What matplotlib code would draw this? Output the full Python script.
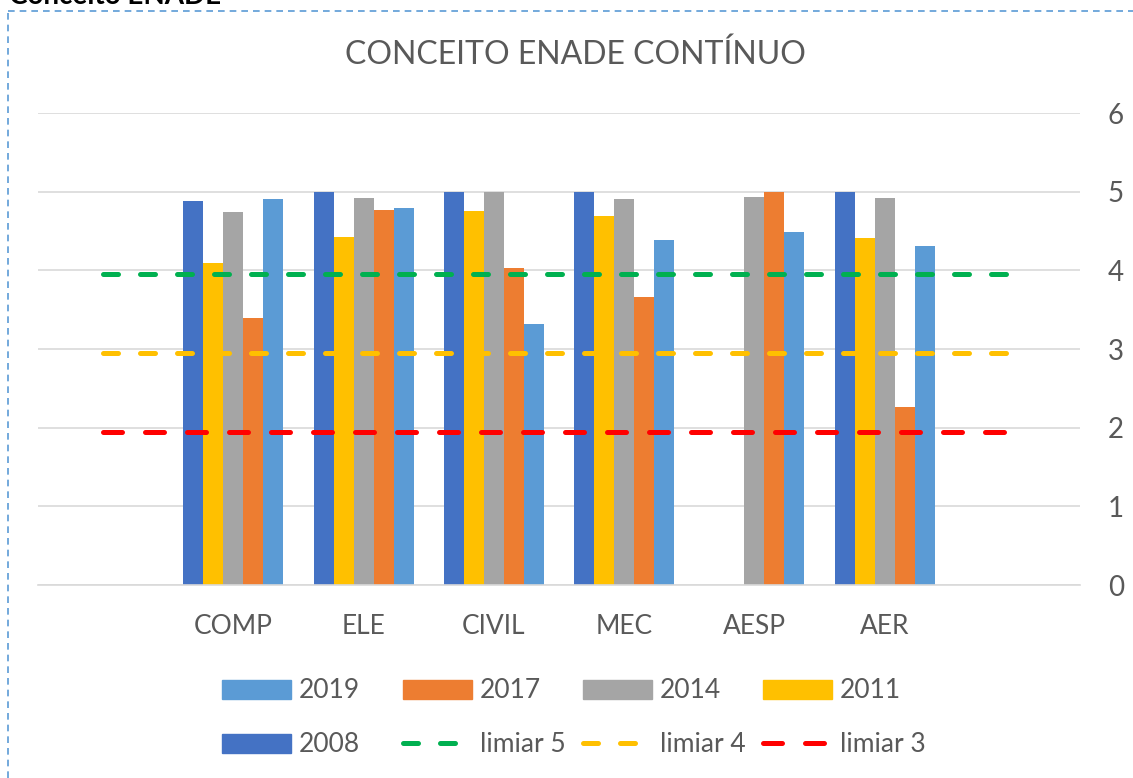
import numpy as np
import matplotlib
matplotlib.use("Agg")
import matplotlib.pyplot as plt
from matplotlib.patches import Patch
from matplotlib.lines import Line2D

plt.rcParams['font.family'] = ['Lato', 'DejaVu Sans']

# categorias (a primeira e a ultima ficam vazias, como no Excel)
cursos = ['', 'COMP', 'ELE', 'CIVIL', 'MEC', 'AESP', 'AER', '']
anos = ['2008', '2011', '2014', '2017', '2019']
# conceito ENADE continuo por curso (nan = sem dado)
c2008 = [np.nan, 4.88, 5.00, 5.00, 5.00, np.nan, 5.00, np.nan]
c2011 = [np.nan, 4.09, 4.42, 4.75, 4.69, np.nan, 4.41, np.nan]
c2014 = [np.nan, 4.74, 4.92, 5.00, 4.91, 4.93, 4.92, np.nan]
c2017 = [np.nan, 3.39, 4.77, 4.03, 3.66, 5.00, 2.26, np.nan]
c2019 = [np.nan, 4.91, 4.79, 3.32, 4.39, 4.49, 4.31, np.nan]
limiar5 = [3.95] * 8
limiar4 = [2.95] * 8
limiar3 = [1.95] * 8

cores = {'2008': '#4472C4', '2011': '#FFC000', '2014': '#A5A5A5',
         '2017': '#ED7D31', '2019': '#5B9BD5'}
series = [c2008, c2011, c2014, c2017, c2019]

W, H = 1133, 778
fig = plt.figure(figsize=(W/100, H/100), dpi=100)
ax = fig.add_axes([38/W, 1 - 585/H, (1080-38)/W, 472/H])

x = np.arange(len(cursos))
w = 20/130
for k, (ano, vals) in enumerate(zip(anos, series)):
    ax.bar(x + (k - 2) * w, vals, w, color=cores[ano], zorder=2, label=ano)

lw = 3.6
ax.plot(x, limiar5, color='#00B050', lw=lw, dashes=(3.0, 4.4), dash_capstyle='round', zorder=3)
ax.plot(x, limiar4, color='#FFC000', lw=lw, dashes=(3.0, 4.4), dash_capstyle='round', zorder=3)
ax.plot(x, limiar3, color='#FF0000', lw=lw, dashes=(3.8, 4.6), dash_capstyle='round', zorder=3)

ax.set_xlim(-0.5, len(cursos) - 0.5)
ax.set_ylim(0, 6)
ax.yaxis.tick_right()
ax.set_yticks(range(7))
ax.set_xticks(x)
ax.set_xticklabels(cursos)
ax.grid(axis='y', color='#D9D9D9', lw=1.2, zorder=0)
ax.set_axisbelow(True)
for s in ['top', 'left', 'right']:
    ax.spines[s].set_visible(False)
ax.spines['bottom'].set_color('#D9D9D9')
ax.spines['bottom'].set_linewidth(1.2)
ax.tick_params(length=0, labelsize=19, colors='#595959')
ax.tick_params(axis='x', pad=21)
ax.tick_params(axis='y', pad=20, labelsize=20)

fig.text(575/W, 1 - 55/H, 'CONCEITO ENADE CONTÍNUO', ha='center', va='center',
         fontsize=23, color='#595959')

# legenda: cada item numa posicao fixa, como no Excel
def lin(c, d):
    return Line2D([0], [0], color=c, lw=lw, dashes=d, dash_capstyle='round')
itens = [(Patch(color=cores['2019']), '2019', 222, 691),
         (Patch(color=cores['2017']), '2017', 403, 691),
         (Patch(color=cores['2014']), '2014', 583, 691),
         (Patch(color=cores['2011']), '2011', 763, 691),
         (Patch(color=cores['2008']), '2008', 222, 745),
         (lin('#00B050', (3.0, 4.4)), 'limiar 5', 403, 745),
         (lin('#FFC000', (3.0, 4.4)), 'limiar 4', 583, 745),
         (lin('#FF0000', (3.8, 4.6)), 'limiar 3', 763, 745)]
for h, lab, px, py in itens:
    lg = fig.legend([h], [lab], loc='center left', bbox_to_anchor=(px/W, 1 - py/H),
                    frameon=False, fontsize=19, handlelength=2.6, handleheight=0.7,
                    handletextpad=0.3, borderpad=0, borderaxespad=0)
    for t in lg.get_texts():
        t.set_color('#595959')

# borda tracejada e titulo cortado
fig.add_artist(Line2D([8/W, 8/W], [0, 1 - 11/H], color='#5B9BD5', lw=1.2,
                      dashes=(4, 3), transform=fig.transFigure))
fig.add_artist(Line2D([8/W, 1], [1 - 11/H, 1 - 11/H], color='#5B9BD5', lw=1.2,
                      dashes=(4, 3), transform=fig.transFigure))
fig.text(9/W, 1 - 4/H, 'Conceito ENADE', ha='left', va='baseline',
         fontsize=20, fontweight='bold', color='black')

fig.savefig('out.png', dpi=100)
